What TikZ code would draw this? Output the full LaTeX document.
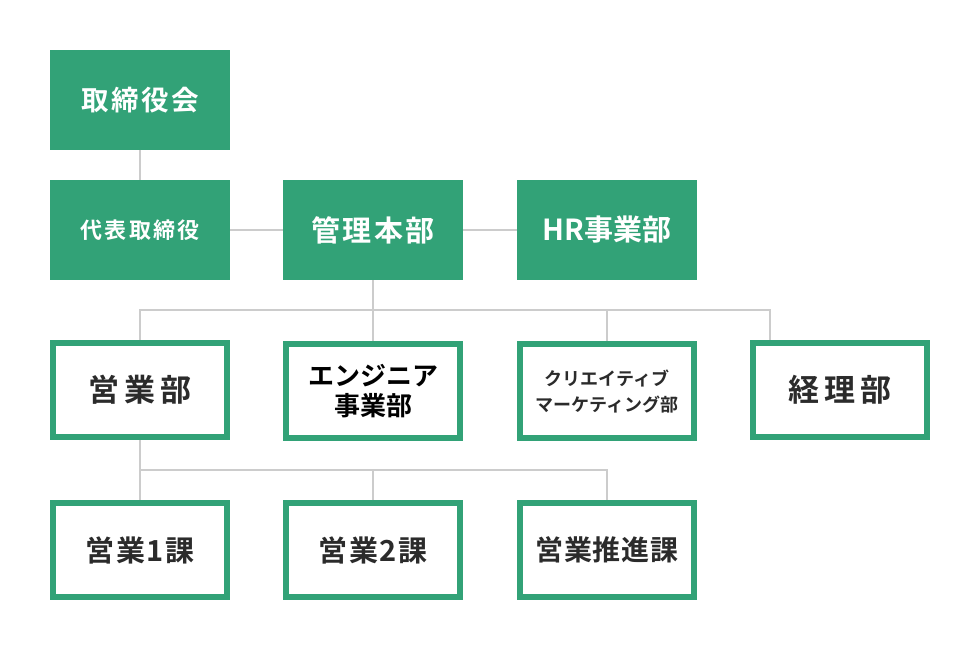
\documentclass[tikz,border=0pt]{standalone}
\usepackage{fontspec}
\setmainfont{Noto Sans CJK JP}[BoldFont={Noto Sans CJK JP Bold}]
\definecolor{grn}{HTML}{32A277}
\definecolor{lineg}{HTML}{CCCCCC}
\definecolor{txtc}{HTML}{2B2B2B}
\newcommand\fsz[2]{\fontsize{#1}{#2}\selectfont}
\newcommand\lsp[1]{\addfontfeatures{LetterSpace=#1}}
\begin{document}
\begin{tikzpicture}[x=1pt,y=-1pt,
  fillbox/.style={fill=grn, draw=none, minimum width=180pt, minimum height=100pt,
    inner sep=0pt, outer sep=0pt, text=white, font=\bfseries, align=center},
  linebox/.style={fill=white, draw=grn, line width=6pt, minimum width=174pt,
    minimum height=94pt, inner sep=0pt, text=txtc, font=\bfseries, align=center},
  conn/.style={draw=lineg, line width=2pt}]
\fill[white] (0,0) rectangle (980,650);
\useasboundingbox (0,0) rectangle (980,650);

% filled boxes
\node[fillbox] (a) at (140,100) {\fsz{27.5}{30}\lsp{9}取締役会};
\node[fillbox] (b) at (140,230) {\fsz{22}{26}\lsp{11}代表取締役};
\node[fillbox] (c) at (373,230) {\fsz{29}{32}\lsp{8}管理本部};
\node[fillbox] (d) at (607,230) {\fsz{29}{32}HR事業部};

% outlined boxes, row 3
\node[linebox] (e) at (140,390) {\fsz{31}{34}\lsp{16}営業部};
\node[linebox, text=black, font={\bfseries\fsz{26}{30}}] (f) at (373,391) {エンジニア\\事業部};
\node[linebox, font={\bfseries\fsz{18}{26}}] (g) at (607,391) {クリエイティブ\\マーケティング部};
\node[linebox] (h) at (840,390) {\fsz{31}{34}\lsp{16}経理部};

% outlined boxes, row 4
\node[linebox] (i) at (140,550) {\fsz{29}{32}\lsp{6}営業1課};
\node[linebox] (j) at (373,550) {\fsz{29}{32}\lsp{6}営業2課};
\node[linebox] (k) at (607,550) {\fsz{28}{31}\lsp{2}営業推進課};

% connectors
\coordinate (busL) at (140,310);
\coordinate (busR) at (770,310);
\coordinate (bus2) at (140,470);
\draw[conn] (a.south) -- (b.north);
\draw[conn] (b.east) -- (c.west);
\draw[conn] (c.east) -- (d.west);
\draw[conn] (c.south) -- (c.south |- busL);
\draw[conn] (e.north) -- (busL) -- (busR) -- (busR |- h.north);
\draw[conn] (f.north) -- (f.north |- busL);
\draw[conn] (g.north) -- (g.north |- busL);
\draw[conn] (e.south) -- (i.north);
\draw[conn] (bus2) -- (k.north |- bus2) -- (k.north);
\draw[conn] (j.north) -- (j.north |- bus2);
\end{tikzpicture}
\end{document}
